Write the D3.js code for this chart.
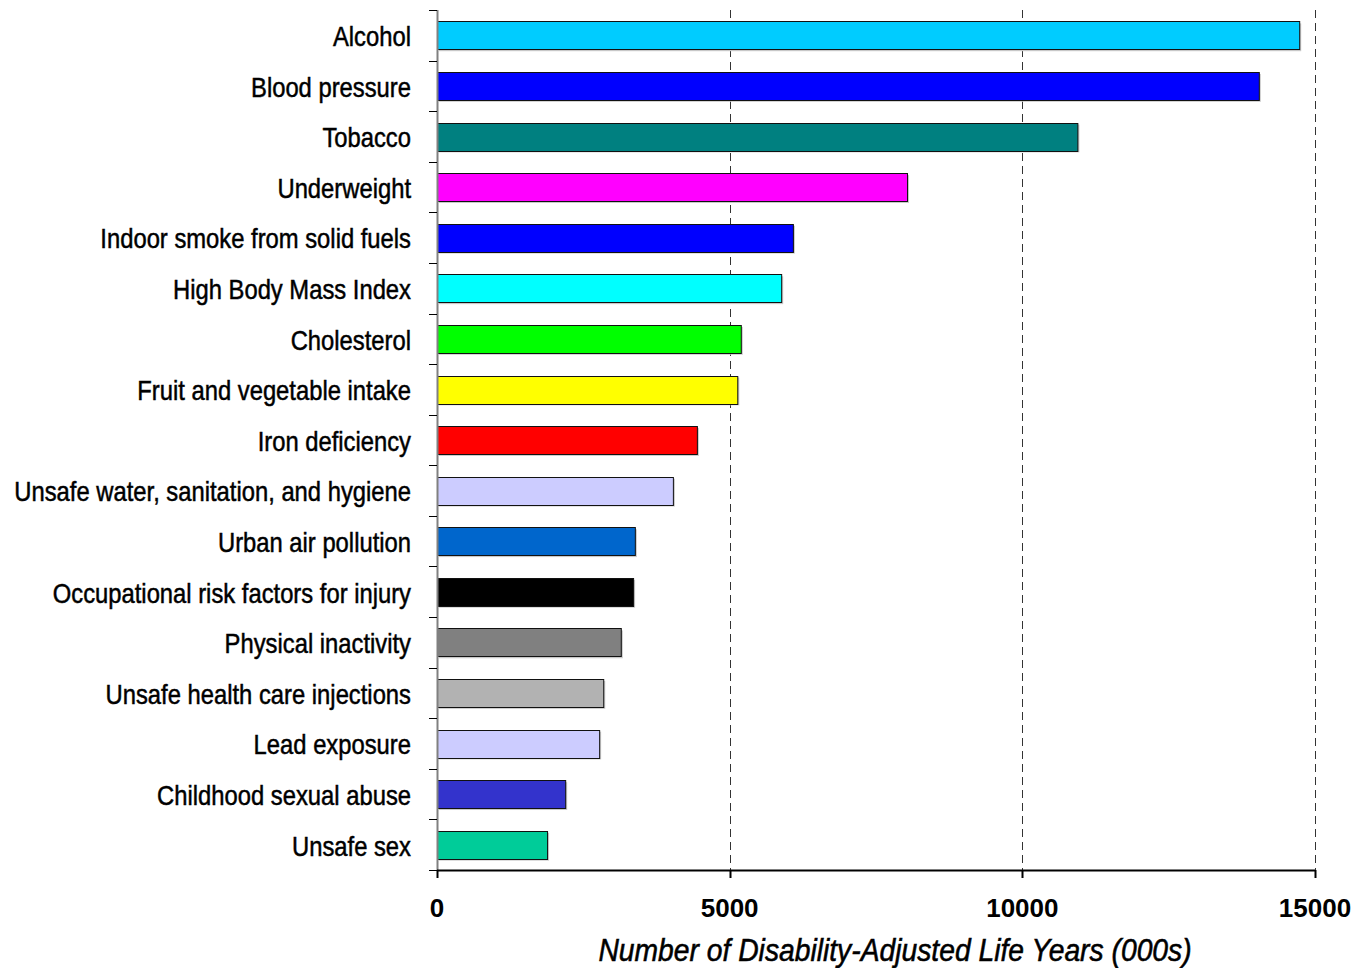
<!DOCTYPE html>
<html>
<head>
<meta charset="utf-8">
<script src="https://cdn.jsdelivr.net/npm/d3@7"></script>
<style>
  body { margin: 0; background: #fff; }
  .cat { font-family: "Liberation Sans Narrow", "Arial Narrow", "Liberation Sans", sans-serif; font-size: 28px; fill: #000; stroke: #000; stroke-width: 0.5px; }
  .tick-num { font-family: "Liberation Sans", Arial, sans-serif; font-weight: bold; font-size: 26px; fill: #000; }
  .title { font-family: "Liberation Sans", Arial, sans-serif; font-style: italic; font-size: 29px; fill: #000; stroke: #000; stroke-width: 0.5px; }
</style>
</head>
<body>
<div id="chart"></div>
<script>
var categories = [
  "Alcohol", "Blood pressure", "Tobacco", "Underweight",
  "Indoor smoke from solid fuels", "High Body Mass Index", "Cholesterol",
  "Fruit and vegetable intake", "Iron deficiency",
  "Unsafe water, sanitation, and hygiene", "Urban air pollution",
  "Occupational risk factors for injury", "Physical inactivity",
  "Unsafe health care injections", "Lead exposure",
  "Childhood sexual abuse", "Unsafe sex"
];
var values = [
  14730, 14040, 10940, 8030, 6080, 5880, 5190, 5130, 4440,
  4030, 3380, 3350, 3140, 2840, 2770, 2190, 1880
];
var colors = [
  "#00ccff", "#0000ff", "#008080", "#ff00ff", "#0000ff", "#00ffff", "#00ff00",
  "#ffff00", "#ff0000", "#ccccff", "#0066cc", "#000000", "#808080", "#b2b2b2",
  "#ccccff", "#3333cc", "#00cc99"
];
var x_ticks = [0, 5000, 10000, 15000];

var width = 1358, height = 968;
var margin = { top: 10, left: 437, right: 43, bottom: 98 };
var plot_w = width - margin.left - margin.right;
var plot_h = height - margin.top - margin.bottom;
var label_squeeze = 0.85; // no narrow font installed, so squeeze the labels

var svg = d3.select("#chart").append("svg")
    .attr("width", width)
    .attr("height", height);

var g = svg.append("g")
    .attr("transform", "translate(" + margin.left + "," + margin.top + ")");

var x_scale = d3.scaleLinear().domain([0, 15000]).range([0, plot_w]);
var y_scale = d3.scaleBand().domain(categories).range([0, plot_h]).paddingInner(0.45).paddingOuter(0.225);
var band_scale = d3.scaleBand().domain(categories).range([0, plot_h]);

// dashed gridlines
g.selectAll("line.grid")
    .data(x_ticks.slice(1))
  .enter().append("line")
    .attr("class", "grid")
    .attr("x1", function(d) { return Math.round(x_scale(d)) + 0.5; })
    .attr("x2", function(d) { return Math.round(x_scale(d)) + 0.5; })
    .attr("y1", 0)
    .attr("y2", plot_h)
    .attr("stroke", "#333")
    .attr("stroke-width", 1)
    .attr("stroke-dasharray", "8,5");

// bar shadows
g.selectAll("rect.shadow")
    .data(values)
  .enter().append("rect")
    .attr("x", 2)
    .attr("y", function(d, i) { return y_scale(categories[i]) + 2; })
    .attr("width", function(d) { return x_scale(d); })
    .attr("height", y_scale.bandwidth())
    .attr("fill", "#c8c8c8");

// bars
g.selectAll("rect.bar")
    .data(values)
  .enter().append("rect")
    .attr("class", "bar")
    .attr("x", 0.5)
    .attr("y", function(d, i) { return Math.round(y_scale(categories[i])) + 0.5; })
    .attr("width", function(d) { return x_scale(d); })
    .attr("height", Math.round(y_scale.bandwidth()))
    .attr("fill", function(d, i) { return colors[i]; })
    .attr("stroke", "#111")
    .attr("stroke-width", 1);

// y axis line and ticks
g.append("line")
    .attr("x1", 0.5).attr("x2", 0.5)
    .attr("y1", 0).attr("y2", plot_h)
    .attr("stroke", "#808080").attr("stroke-width", 2);

var boundaries = categories.map(function(c) { return band_scale(c); }).concat([plot_h]);
g.selectAll("line.ytick")
    .data(boundaries)
  .enter().append("line")
    .attr("x1", -8).attr("x2", 0)
    .attr("y1", function(d) { return Math.round(d) + 0.5; })
    .attr("y2", function(d) { return Math.round(d) + 0.5; })
    .attr("stroke", "#000").attr("stroke-width", 1);

// category labels
g.selectAll("text.cat")
    .data(categories)
  .enter().append("text")
    .attr("class", "cat")
    .attr("transform", function(d) {
      return "translate(-26," + (band_scale(d) + band_scale.bandwidth() / 2 + 1) + ") scale(" + label_squeeze + ",1)";
    })
    .attr("dy", "0.35em")
    .attr("text-anchor", "end")
    .text(function(d) { return d; });

// x axis
var x_axis = g.append("g")
    .attr("transform", "translate(0," + plot_h + ")");
x_axis.append("line")
    .attr("x1", 0).attr("x2", plot_w)
    .attr("y1", 0.5).attr("y2", 0.5)
    .attr("stroke", "#000").attr("stroke-width", 2);
x_axis.selectAll("line.xtick")
    .data(x_ticks)
  .enter().append("line")
    .attr("x1", function(d) { return Math.round(x_scale(d)) + 0.5; })
    .attr("x2", function(d) { return Math.round(x_scale(d)) + 0.5; })
    .attr("y1", 0).attr("y2", 8)
    .attr("stroke", "#000").attr("stroke-width", 2);
x_axis.selectAll("text.xlab")
    .data(x_ticks)
  .enter().append("text")
    .attr("class", "tick-num")
    .attr("x", function(d) { return x_scale(d); })
    .attr("y", 47)
    .attr("text-anchor", "middle")
    .text(function(d) { return d; });

svg.append("text")
    .attr("class", "title")
    .attr("transform", "translate(895,961) scale(0.975,1.1)")
    .attr("text-anchor", "middle")
    .text("Number of Disability-Adjusted Life Years (000s)");
</script>
</body>
</html>
